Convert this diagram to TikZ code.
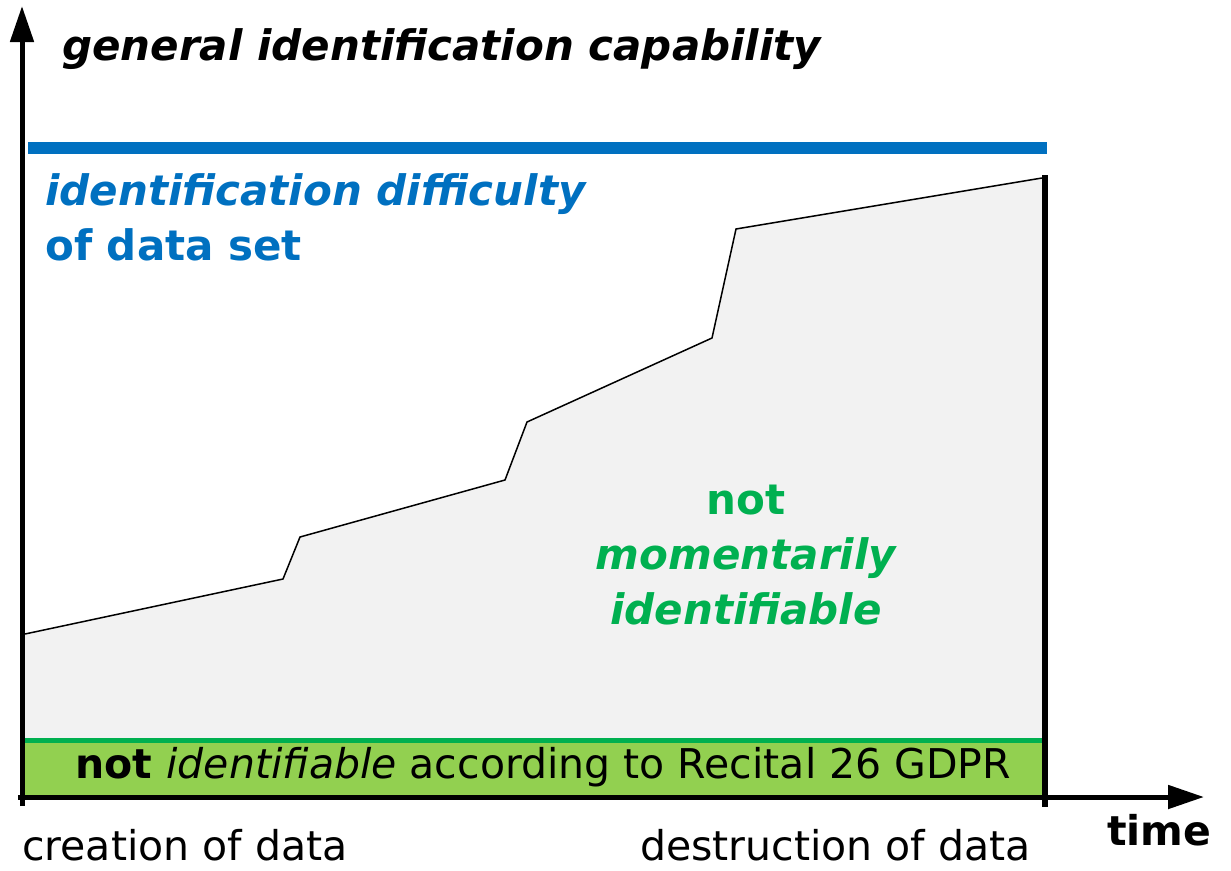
\documentclass[tikz,border=0pt]{standalone}
\usepackage{fontspec}
\setmainfont{DejaVu Sans}
\usetikzlibrary{arrows.meta}
\definecolor{difblue}{HTML}{0070C0}
\definecolor{idgreen}{HTML}{00B050}
\definecolor{barfill}{HTML}{92D050}
\definecolor{areafill}{HTML}{F2F2F2}

\begin{document}
\begin{tikzpicture}[x=1pt,y=-1pt,
    axis/.style={line width=5pt,-{Triangle[length=36pt,width=23pt]}},
    lbl/.style={inner sep=0pt,anchor=base west,font=\fontsize{41}{55}\selectfont},
    big/.style={font=\fontsize{42}{55}\selectfont}]
  \useasboundingbox (0,0) rectangle (1231,870);
  \coordinate (ybot) at (22,806);
  \coordinate (ytop) at (22,6);
  \coordinate (xbeg) at (18,797);
  \coordinate (xend) at (1204,797);
  \coordinate (endtop) at (1045,175);
  \coordinate (endbot) at (1045,807);
  \fill[areafill] (25,634) -- (283,579) -- (300,537) -- (505,480) -- (527,422)
    -- (712,338) -- (736,229) -- (1042,178) -- (1042,740) -- (25,740) -- cycle;
  \draw[line width=1.5pt] (25,634) -- (283,579) -- (300,537) -- (505,480) -- (527,422)
    -- (712,338) -- (736,229) -- (1042,178);
  \fill[barfill] (25,740) rectangle (1045,797);
  \draw[idgreen,line width=5pt] (25,740) -- (1045,740);
  \draw[difblue,line width=12pt] (28,148) -- (1047,148);
  \draw[line width=6pt] (endtop) -- (endbot);
  \draw[axis] (ybot) -- (ytop);
  \draw[axis] (xbeg) -- (xend);
  \node[lbl,big] (capability) at (62,60) {\bfseries\itshape general identification capability};
  \node[lbl,big,difblue,align=left] (difficulty) at (45,260) {\bfseries\itshape identification difficulty\\\bfseries of data set};
  \node[idgreen,inner sep=0pt,anchor=base,align=center,big] (momentary) at (746,624)
    {\bfseries not\\\bfseries\itshape momentarily\\\bfseries\itshape identifiable};
  \node[lbl] (recital) at (75,778) {\bfseries not \mdseries\itshape identifiable\upshape{} according to Recital 26 GDPR};
  \node[lbl] (creation) at (22,860) {creation of data};
  \node[lbl] (destruction) at (640,860) {destruction of data};
  \node[lbl] (time) at (1107,845) {\bfseries time};
\end{tikzpicture}
\end{document}
